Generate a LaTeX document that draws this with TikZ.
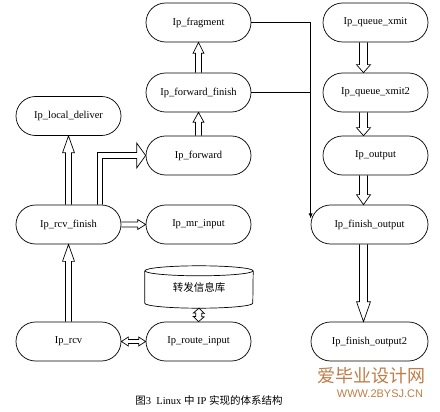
\documentclass[tikz,border=0pt]{standalone}
\usepackage{fontspec}
\setmainfont{Liberation Serif}
\newfontfamily\cjk{Noto Sans CJK SC}
\newfontfamily\wmfont{Liberation Sans}
\usetikzlibrary{calc,shapes.misc,arrows.meta}
\definecolor{wmark}{RGB}{190,125,70}

% hollow arrow: from, to, shaft half width, head half width, head length
\newcommand{\harrow}[5]{%
  \coordinate (hb) at ($(#2)!#5pt!(#1)$);
  \draw[hollow] ($(#1)!#3pt!90:(#2)$) -- ($(hb)!#3pt!90:(#2)$) -- ($(hb)!#4pt!90:(#2)$) -- (#2)
    -- ($(hb)!#4pt!-90:(#2)$) -- ($(hb)!#3pt!-90:(#2)$) -- ($(#1)!#3pt!-90:(#2)$);
}
% hollow arrow with two heads
\newcommand{\hdarrow}[5]{%
  \coordinate (ha) at ($(#1)!#5pt!(#2)$);
  \coordinate (hb) at ($(#2)!#5pt!(#1)$);
  \draw[hollow] (#1) -- ($(ha)!#4pt!-90:(#2)$) -- ($(ha)!#3pt!-90:(#2)$) -- ($(hb)!#3pt!90:(#1)$)
    -- ($(hb)!#4pt!90:(#1)$) -- (#2) -- ($(hb)!#4pt!-90:(#1)$) -- ($(hb)!#3pt!-90:(#1)$)
    -- ($(ha)!#3pt!90:(#2)$) -- ($(ha)!#4pt!90:(#2)$) -- cycle;
}

\begin{document}
\begin{tikzpicture}[x=1pt,y=-1pt,
    proc/.style={draw, rounded rectangle, line width=0.7pt, minimum width=107, minimum height=39,
      inner sep=1pt, font=\fontsize{10.5}{12}\selectfont},
    hollow/.style={line width=0.7pt, line join=miter},
    conn/.style={line width=0.7pt}]
    \useasboundingbox (0,0) rectangle (440,412);
    % processes
    \node[proc] (fragment) at (198.5,22.5) {Ip\_fragment};
    \node[proc] (fwdfinish) at (198.5,92.5) {Ip\_forward\_finish};
    \node[proc] (forward) at (198.5,155.5) {Ip\_forward};
    \node[proc] (localdeliver) at (68.5,116) {Ip\_local\_deliver};
    \node[proc] (rcvfinish) at (68.5,224.5) {Ip\_rcv\_finish};
    \node[proc] (mrinput) at (198.5,224.5) {Ip\_mr\_input};
    \node[proc] (rcv) at (68.5,341.5) {Ip\_rcv};
    \node[proc] (routeinput) at (198.5,341.5) {Ip\_route\_input};
    \node[proc] (queuexmit) at (375.5,22.5) {Ip\_queue\_xmit};
    \node[proc] (queuexmit2) at (375.5,92.5) {Ip\_queue\_xmit2};
    \node[proc] (output) at (375.5,155.5) {Ip\_output};
    \node[proc, minimum width=119] (finishout) at (369.5,224.5) {Ip\_finish\_output};
    \node[proc, minimum width=119] (finishout2) at (369.5,341.5) {Ip\_finish\_output2};
    % database
    \node[minimum width=108, minimum height=42, inner sep=0pt, font=\cjk\fontsize{10.5}{12}\selectfont,
      text depth=0pt, yshift=-3pt] (fib) at (199,284) {转发信息库};
    \draw[conn] ($(fib.north west)+(0,5)$) -- ($(fib.south west)+(0,-5)$)
      arc[start angle=180, end angle=0, x radius=54, y radius=5] -- ($(fib.north east)+(0,5)$);
    \draw[conn] ($(fib.north)+(0,5)$) ellipse [x radius=54, y radius=5];
    % hollow arrows
    \harrow{rcv.north}{rcvfinish.south}{3}{6}{17}
    \harrow{rcvfinish.north}{localdeliver.south}{3}{6}{17}
    \harrow{forward.north}{fwdfinish.south}{3}{5.5}{10}
    \harrow{fwdfinish.north}{fragment.south}{3}{5.5}{11}
    \harrow{rcvfinish.east}{mrinput.west}{2.5}{5}{8}
    \coordinate (q1) at ([xshift=-12]queuexmit.south);
    \coordinate (q2) at ([xshift=-12]queuexmit2.north);
    \coordinate (q3) at ([xshift=-12]queuexmit2.south);
    \coordinate (q4) at ([xshift=-12]output.north);
    \coordinate (q5) at ([xshift=-12]output.south);
    \coordinate (q6) at (q5 |- finishout.north);
    \coordinate (q7) at (q5 |- finishout.south);
    \coordinate (q8) at (q5 |- finishout2.north);
    \foreach \a/\b/\l in {q1/q2/8, q3/q4/8, q5/q6/10, q7/q8/20} {\harrow{\a}{\b}{4}{7}{\l}}
    \hdarrow{rcv.east}{routeinput.west}{2}{4.5}{7}
    \hdarrow{fib.south}{routeinput.north}{3}{5.5}{5}
    % bent arrow to Ip_forward
    \draw[hollow] ($(rcvfinish.north)+(29,0)$) |- ($(forward.west)+(-9,-3)$) -- ++(0,-9.5) -- (forward.west)
      -- ($(forward.west)+(-9,12.5)$) -- ++(0,-9.5) -| ($(rcvfinish.north)+(34,0)$);
    % plain lines
    \draw[conn, -{Latex[length=5pt,width=4pt]}] (fragment.east) -| ([yshift=6]finishout.west);
    \draw[conn] (fwdfinish.east) -- (fwdfinish.east -| finishout.west);
    % caption and mark
    \node[font=\fontsize{10.5}{12}\selectfont] (caption) at (209,400) {{\cjk 图}3\ \ Linux {\cjk 中} IP {\cjk 实现的体系结构}};
    \node[text=wmark, font=\cjk\fontsize{18}{19}\selectfont] (mark) at (371,376) {爱毕业设计网};
    \node[text=wmark, font=\wmfont\fontsize{11}{12}\selectfont] (site) at (380,394) {WWW.2BYSJ.CN};
\end{tikzpicture}
\end{document}
